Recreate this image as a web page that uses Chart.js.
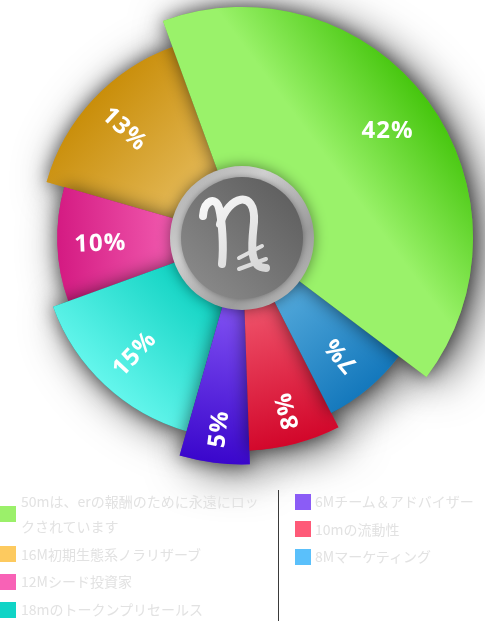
<!DOCTYPE html>
<html><head><meta charset="utf-8">
<script src="https://cdn.jsdelivr.net/npm/chart.js@4.4.0/dist/chart.umd.min.js"></script>
<style>
html,body{margin:0;padding:0;background:#fff;width:485px;height:621px;overflow:hidden;}
#wrap{position:relative;width:485px;height:621px;}
#c{position:absolute;left:0;top:0;}
.col{position:absolute;top:489px;font-family:"Noto Sans CJK JP","Noto Sans",sans-serif;font-size:14px;line-height:25px;color:#e2e2e2;}
.item{display:flex;align-items:center;margin-bottom:2.7px;}
.sw{width:16px;height:16px;flex:0 0 16px;margin-right:5px;}
#left{left:0;}
#left .txt{width:248px;}
#right{left:295px;}
#right .sw{margin-right:4px;}
#divider{position:absolute;left:278px;top:490px;width:1px;height:131px;background:#3a3a3a;}
</style></head><body>
<div id="wrap">
<canvas id="c" width="485" height="621"></canvas>
<div id="left" class="col"></div>
<div id="divider"></div>
<div id="right" class="col"></div>
</div>
<script>
// ---- data (legend order) ----
const categories = ['50mは、erの報酬のために永遠にロックされています','16M初期生態系ノラリザーブ','12Mシード投資家','18mのトークンプリセールス','6Mチーム＆アドバイザー','10mの流動性','8Mマーケティング'];
const shares = [42, 13, 10, 15, 5, 8, 7];
const percentLabels = ['42%', '13%', '10%', '15%', '5%', '8%', '7%'];
// angular size of each slice as drawn (degrees)
const sliceAngles = [147, 54, 36, 54, 18, 25, 26];
// relative outer radius of each slice
const sliceDepth = [100, 88, 80, 87, 98, 92, 85];
const swatchColors = ['#9bf06a', '#fdca5f', '#f862b6', '#10d4c6', '#8b5cf6', '#fe5a78', '#5ac0fb'];
const innerColors = ['#9af26a', '#e2b652', '#f25cb0', '#14d4c4', '#7c4cf0', '#ee5068', '#52a8da'];
const outerColors = ['#46c60e', '#c98e0a', '#d41a82', '#64f6ec', '#3a06cc', '#d2062a', '#1478bc'];
// slices are drawn clockwise in this order
const order = [0, 6, 5, 4, 3, 2, 1];

// ---- legend ----
function buildLegend(el, idxs){
  idxs.forEach(i=>{
    const it=document.createElement('div'); it.className='item';
    const sw=document.createElement('div'); sw.className='sw'; sw.style.background=swatchColors[i];
    const tx=document.createElement('div'); tx.className='txt'; tx.textContent=categories[i];
    it.appendChild(sw); it.appendChild(tx); el.appendChild(it);
  });
}
buildLegend(document.getElementById('left'), [0,1,2,3]);
buildLegend(document.getElementById('right'), [4,5,6]);

// ---- plugin: custom arc drawing with gradients + shadows ----
function withGrad(ctx, arc, i){
  const mid=(arc.startAngle+arc.endAngle)/2, R=arc.outerRadius;
  const g=ctx.createLinearGradient(arc.x,arc.y,arc.x+Math.cos(mid)*R,arc.y+Math.sin(mid)*R);
  g.addColorStop(0,innerColors[i]);
  g.addColorStop(i===0?0.5:0.35,innerColors[i]);
  g.addColorStop(1,outerColors[i]);
  return g;
}
function drawArc(ctx, arc, fill){
  const saved=arc.options;
  arc.options=Object.assign({}, saved, {backgroundColor: fill, borderWidth:0});
  arc.draw(ctx);
  arc.options=saved;
}
const slicePlugin={
  id:'slices',
  beforeDatasetsDraw(chart){
    const ctx=chart.ctx, arcs=chart.getDatasetMeta(0).data;
    // outer halo
    ctx.save();
    ctx.shadowColor='rgba(0,0,0,0.7)'; ctx.shadowBlur=45; ctx.shadowOffsetX=10; ctx.shadowOffsetY=6;
    arcs.forEach((a,k)=>drawArc(ctx,a,swatchColors[order[k]]));
    ctx.restore();
    // slices, each casting a shadow on its clockwise neighbour
    ctx.save();
    ctx.shadowColor='rgba(0,0,0,0.55)'; ctx.shadowBlur=18; ctx.shadowOffsetX=0; ctx.shadowOffsetY=0;
    for(let k=arcs.length-1;k>=0;k--){
      drawArc(ctx,arcs[k],withGrad(ctx,arcs[k],order[k]));
    }
    ctx.restore();
    return false;
  },
  afterDraw(chart){
    const ctx=chart.ctx, arcs=chart.getDatasetMeta(0).data, s=chart.scales.r;
    const cx=s.xCenter, cy=s.yCenter;
    // labels
    arcs.forEach((a,k)=>{
      const i=order[k], mid=(a.startAngle+a.endAngle)/2;
      const r=a.outerRadius-(i===0?50:(a.outerRadius>205?34:43));
      ctx.save();
      ctx.translate(cx+Math.cos(mid)*r, cy+Math.sin(mid)*r);
      ctx.rotate(i===0?0:mid-Math.PI);
      ctx.font='bold 24px "Open Sans", sans-serif';
      try{ctx.letterSpacing='1px';}catch(e){}
      ctx.fillStyle='#ffffff'; ctx.textAlign='center'; ctx.textBaseline='middle';
      ctx.fillText(percentLabels[i],0,1);
      ctx.restore();
    });
    // central coin
    ctx.save();
    ctx.shadowColor='rgba(0,0,0,0.45)'; ctx.shadowBlur=14;
    let g=ctx.createLinearGradient(cx-72,cy-72,cx+72,cy+72);
    g.addColorStop(0,'#a8a8a8'); g.addColorStop(0.35,'#cfcfcf'); g.addColorStop(0.7,'#9c9c9c'); g.addColorStop(1,'#c4c4c4');
    ctx.fillStyle=g; ctx.beginPath(); ctx.arc(cx,cy,72,0,Math.PI*2); ctx.fill();
    ctx.restore();
    ctx.save();
    g=ctx.createLinearGradient(cx+50,cy-50,cx-50,cy+50);
    g.addColorStop(0,'#5e5e5e'); g.addColorStop(1,'#8a8a8a');
    ctx.shadowColor='rgba(0,0,0,0.35)'; ctx.shadowBlur=6;
    ctx.fillStyle=g; ctx.beginPath(); ctx.arc(cx,cy,61,0,Math.PI*2); ctx.fill();
    ctx.restore();
    // symbol
    ctx.save();
    g=ctx.createLinearGradient(cx-30,cy-40,cx+30,cy+40);
    g.addColorStop(0,'#f6f6f6'); g.addColorStop(1,'#d2d2d2');
    ctx.strokeStyle=g; ctx.lineCap='round'; ctx.lineJoin='round';
    ctx.lineWidth=8;
    ctx.beginPath();
    ctx.moveTo(cx-39,cy-22);
    ctx.bezierCurveTo(cx-38,cy-38,cx-26,cy-42,cx-23,cy-30);
    ctx.bezierCurveTo(cx-20,cy-18,cx-18,cy+8,cx-20,cy+26);
    ctx.stroke();
    ctx.beginPath();
    ctx.moveTo(cx-22,cy-14);
    ctx.bezierCurveTo(cx-14,cy-42,cx+14,cy-50,cx+12,cy-16);
    ctx.bezierCurveTo(cx+10,cy+4,cx+6,cy+30,cx+24,cy+30);
    ctx.stroke();
    ctx.lineWidth=4;
    ctx.beginPath(); ctx.moveTo(cx-3,cy+20); ctx.lineTo(cx+20,cy+8); ctx.stroke();
    ctx.beginPath(); ctx.moveTo(cx-3,cy+31); ctx.lineTo(cx+24,cy+21); ctx.stroke();
    ctx.restore();
  }
};

new Chart(document.getElementById('c'),{
  type:'polarArea',
  data:{
    labels: order.map(i=>categories[i]),
    datasets:[{
      data: order.map(i=>sliceDepth[i]),
      backgroundColor: c=>swatchColors[order[c.dataIndex]],
      borderWidth:0,
      angle: c=>sliceAngles[order[c.dataIndex]]
    }]
  },
  options:{
    responsive:false, animation:false, devicePixelRatio:1,
    layout:{padding:{top:7,bottom:152,left:0,right:0}},
    scales:{r:{min:0,max:100,startAngle:-20,display:false}},
    plugins:{legend:{display:false},tooltip:{enabled:false}}
  },
  plugins:[slicePlugin]
});
</script>
</body></html>
